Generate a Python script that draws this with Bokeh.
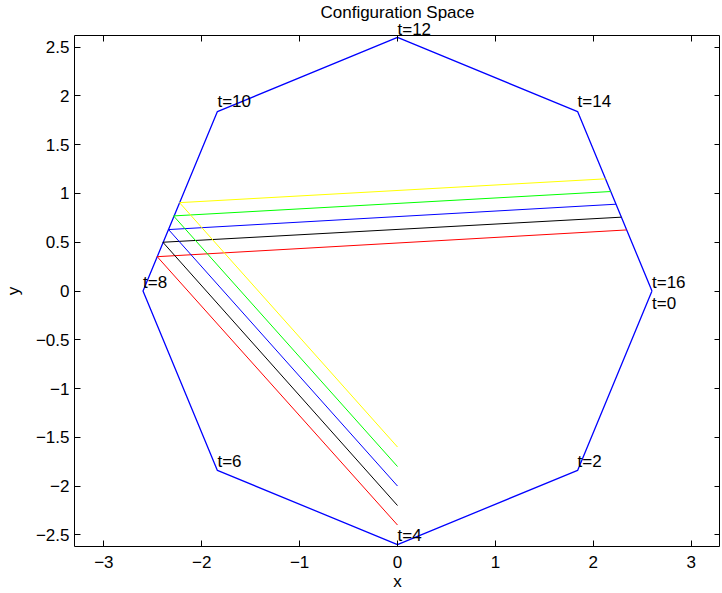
from bokeh.plotting import figure
from bokeh.models import LinearAxis, FixedTicker, CustomJSTickFormatter, Label, Title
from bokeh.embed import file_html
from bokeh.resources import INLINE

# Octagon vertices (closed), labelled by time
vertex_t = ["t=0", "t=2", "t=4", "t=6", "t=8", "t=10", "t=12", "t=14", "t=16"]
vertex_x = [2.6, 1.84, 0.0, -1.84, -2.6, -1.84, 0.0, 1.84, 2.6]
vertex_y = [0.0, -1.84, -2.6, -1.84, 0.0, 1.84, 2.6, 1.84, 0.0]

# Five coloured paths: start on x=0, hit left edge, then go to right edge
path_colors = ["#ff0000", "#000000", "#0000ff", "#00ff00", "#ffff00"]
start_x = [0.0, 0.0, 0.0, 0.0, 0.0]
start_y = [-2.4, -2.2, -2.0, -1.8, -1.6]
left_x = [-2.455, -2.397, -2.339, -2.288, -2.227]
left_y = [0.352, 0.50, 0.63, 0.77, 0.906]
right_x = [2.341, 2.287, 2.232, 2.179, 2.125]
right_y = [0.626, 0.757, 0.89, 1.02, 1.15]

x_ticks = [-3, -2, -1, 0, 1, 2, 3]
y_ticks = [-2.5, -2, -1.5, -1, -0.5, 0, 0.5, 1, 1.5, 2, 2.5]

# style: vertical pixel offsets of the vertex labels (t=0 sits one line below t=16)
label_offsets = [-12, 9, 9, 9, 9, 10, 0, 10, 9]

FONT = "Liberation Sans"
FS = "17px"
X_RANGE = (-3.3, 3.3)
Y_RANGE = (-2.62, 2.62)
FRAME_W, FRAME_H = 646, 511

p = figure(frame_width=FRAME_W, frame_height=FRAME_H,
           x_range=X_RANGE, y_range=Y_RANGE,
           output_backend="svg", toolbar_location=None,
           title="Configuration Space",
           min_border_left=0, min_border_right=0, min_border_top=0, min_border_bottom=0)

p.title.text_font = FONT
p.title.text_font_size = FS
p.title.text_font_style = "normal"
p.title.text_color = "black"
p.title.align = "center"
p.title.standoff = 0
p.title.offset = 0

p.xgrid.visible = False
p.ygrid.visible = False
p.outline_line_color = "black"
p.outline_line_width = 1
p.background_fill_color = "white"
p.border_fill_color = "white"

fmt = CustomJSTickFormatter(code="""
    return tick < 0 ? "\\u2212" + String(Math.abs(tick)) : String(tick);
""")

for ax, ticks in ((p.xaxis[0], x_ticks), (p.yaxis[0], y_ticks)):
    ax.ticker = FixedTicker(ticks=ticks)
    ax.formatter = fmt
    ax.major_tick_in = 6
    ax.major_tick_out = 0
    ax.major_tick_line_color = "black"
    ax.minor_tick_line_color = None
    ax.axis_line_color = None
    ax.major_label_text_font = FONT
    ax.major_label_text_font_size = FS
    ax.major_label_text_color = "black"
    ax.axis_label_text_font = FONT
    ax.axis_label_text_font_size = FS
    ax.axis_label_text_font_style = "normal"
    ax.axis_label_text_color = "black"

p.xaxis.axis_label = "x"
p.yaxis.axis_label = "y"
p.xaxis.major_label_standoff = 9
p.xaxis.axis_label_standoff = 1
p.yaxis.major_label_standoff = 5
p.yaxis.axis_label_standoff = 10

for loc, ticks in (("above", x_ticks), ("right", y_ticks)):
    ax = LinearAxis(ticker=FixedTicker(ticks=ticks))
    ax.major_tick_in = 6
    ax.major_tick_out = 0
    ax.major_tick_line_color = "black"
    ax.minor_tick_line_color = None
    ax.axis_line_color = None
    ax.major_label_text_color = None
    ax.major_label_text_font_size = "1px"
    ax.major_label_standoff = 0
    p.add_layout(ax, loc)

# octagon
p.line(vertex_x, vertex_y, line_color="#0000ff", line_width=1.3)

# coloured paths
for i, c in enumerate(path_colors):
    p.line([start_x[i], left_x[i], right_x[i]],
           [start_y[i], left_y[i], right_y[i]],
           line_color=c, line_width=1)

# vertex labels; the one on the top edge lies above the frame, so it goes in the top panel
for t, x, y, off in zip(vertex_t, vertex_x, vertex_y, label_offsets):
    if y >= Y_RANGE[1] - 0.05:
        sx = (x - X_RANGE[0]) / (X_RANGE[1] - X_RANGE[0]) * FRAME_W
        ttl = Title(text=t, align="left", offset=sx,
                    text_font=FONT, text_font_size=FS, text_font_style="normal",
                    text_color="black")
        try:
            ttl.standoff = -7
        except Exception:
            ttl.standoff = 0
        p.add_layout(ttl, "above")
    else:
        p.add_layout(Label(x=x, y=y, text=t, y_offset=off,
                           text_font=FONT, text_font_size=FS, text_color="black",
                           text_align="left", text_baseline="alphabetic"))

open("out.html", "w").write(file_html(p, INLINE))
